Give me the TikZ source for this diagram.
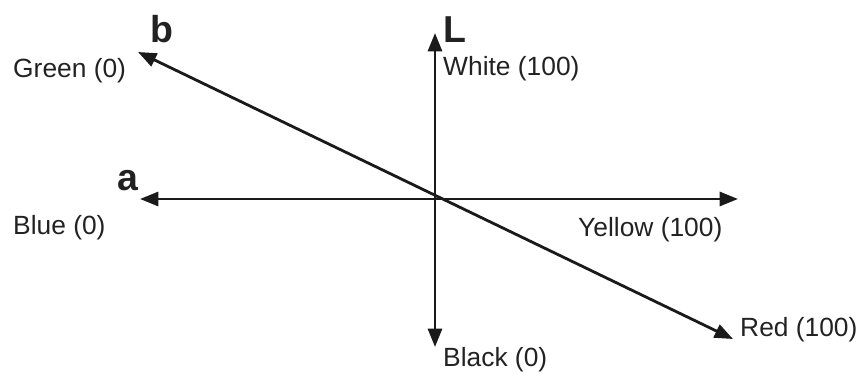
\documentclass[tikz,border=0pt]{standalone}
\usepackage{fontspec}
\setmainfont{Liberation Sans}
\usepackage{xcolor}
\usetikzlibrary{arrows.meta}
\definecolor{cline}{HTML}{1A1A1A}
\definecolor{ctext}{HTML}{222222}

\begin{document}
\begin{tikzpicture}[x=0.03cm,y=-0.03cm,
    axis/.style={draw=cline,line width=2.4pt,
      {Triangle[length=0.55cm,width=0.42cm]}-{Triangle[length=0.55cm,width=0.42cm]}},
    pole/.style={anchor=base west,inner sep=0pt,text=ctext,
      font=\fontsize{22.5}{27}\selectfont},
    axname/.style={anchor=base west,inner sep=0pt,text=ctext,
      font=\fontsize{32}{38}\selectfont\bfseries}]
  \useasboundingbox (0,0) rectangle (856,373);
  \coordinate (ominus) at (140,199);
  \coordinate (oplus) at (738,199);
  \coordinate (lplus) at (435,33);
  \coordinate (lminus) at (435,347);
  \coordinate (bminus) at (138,52);
  \coordinate (bplus) at (733,339);
  \draw[axis] (ominus) -- (oplus);
  \draw[axis] (lminus) -- (lplus);
  \draw[axis] (bminus) -- (bplus);
  \node[axname] (nb) at (150,43) {b};
  \node[axname] (na) at (117,191) {a};
  \node[axname] (nl) at (443,43) {L};
  \node[pole] (green) at (13,78) {Green (0)};
  \node[pole] (blue) at (13,235) {Blue (0)};
  \node[pole] (white) at (443,76) {White (100)};
  \node[pole] (yellow) at (578,237) {Yellow (100)};
  \node[pole] (red) at (740,337) {Red (100)};
  \node[pole] (black) at (443,367) {Black (0)};
\end{tikzpicture}
\end{document}
